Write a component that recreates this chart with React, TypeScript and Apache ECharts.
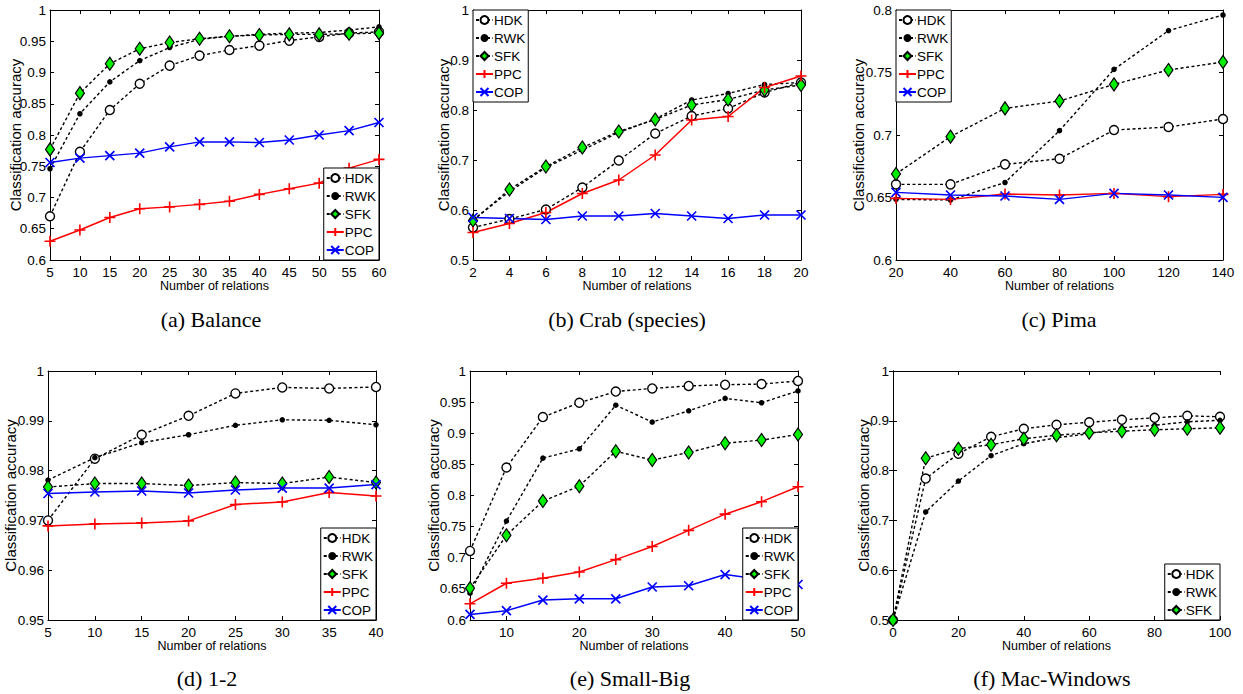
import React, { useEffect, useRef } from "react";
import * as echarts from "echarts";

// ---------- data ----------
const balanceX = [5, 10, 15, 20, 25, 30, 35, 40, 45, 50, 55, 60];
const balanceHDK = [0.670, 0.773, 0.840, 0.882, 0.911, 0.927, 0.936, 0.943, 0.951, 0.957, 0.963, 0.965];
const balanceRWK = [0.746, 0.834, 0.885, 0.919, 0.940, 0.953, 0.958, 0.961, 0.963, 0.964, 0.968, 0.973];
const balanceSFK = [0.777, 0.867, 0.914, 0.938, 0.948, 0.954, 0.958, 0.960, 0.961, 0.961, 0.962, 0.963];
const balancePPC = [0.630, 0.648, 0.668, 0.682, 0.685, 0.689, 0.694, 0.705, 0.714, 0.723, 0.747, 0.761];
const balanceCOP = [0.756, 0.763, 0.767, 0.771, 0.781, 0.789, 0.789, 0.788, 0.792, 0.800, 0.807, 0.820];

const crabX = [2, 4, 6, 8, 10, 12, 14, 16, 18, 20];
const crabHDK = [0.565, 0.582, 0.601, 0.645, 0.699, 0.753, 0.788, 0.803, 0.835, 0.855];
const crabRWK = [0.580, 0.637, 0.685, 0.720, 0.755, 0.782, 0.820, 0.833, 0.851, 0.855];
const crabSFK = [0.579, 0.641, 0.687, 0.725, 0.757, 0.781, 0.810, 0.821, 0.840, 0.850];
const crabPPC = [0.555, 0.573, 0.595, 0.633, 0.660, 0.710, 0.780, 0.787, 0.845, 0.868];
const crabCOP = [0.585, 0.583, 0.581, 0.588, 0.588, 0.593, 0.588, 0.583, 0.590, 0.590];

const pimaX = [20, 40, 60, 80, 100, 120, 140];
const pimaHDK = [0.6605, 0.6605, 0.6765, 0.681, 0.704, 0.7064, 0.7128];
const pimaRWK = [0.6485, 0.648, 0.662, 0.7035, 0.7525, 0.7835, 0.796];
const pimaSFK = [0.6688, 0.6987, 0.7213, 0.7272, 0.7405, 0.752, 0.7584];
const pimaPPC = [0.6493, 0.6485, 0.6528, 0.652, 0.6533, 0.6507, 0.6525];
const pimaCOP = [0.6541, 0.652, 0.6512, 0.6485, 0.6533, 0.652, 0.6501];

const oneTwoX = [5, 10, 15, 20, 25, 30, 35, 40];
const oneTwoHDK = [0.9700, 0.9824, 0.9872, 0.9910, 0.9955, 0.9967, 0.9965, 0.9968];
const oneTwoRWK = [0.9781, 0.9826, 0.9856, 0.9872, 0.9891, 0.9902, 0.9901, 0.9892];
const oneTwoSFK = [0.9767, 0.9774, 0.9774, 0.9770, 0.9776, 0.9774, 0.9787, 0.9776];
const oneTwoPPC = [0.9689, 0.9693, 0.9695, 0.9699, 0.9732, 0.9737, 0.9756, 0.9749];
const oneTwoCOP = [0.9754, 0.9757, 0.9759, 0.9755, 0.9761, 0.9765, 0.9765, 0.9772];

const smallBigX = [5, 10, 15, 20, 25, 30, 35, 40, 45, 50];
const smallBigHDK = [0.711, 0.845, 0.926, 0.949, 0.967, 0.972, 0.976, 0.978, 0.979, 0.984];
const smallBigRWK = [0.643, 0.759, 0.860, 0.875, 0.945, 0.918, 0.936, 0.956, 0.949, 0.968];
const smallBigSFK = [0.651, 0.736, 0.791, 0.815, 0.871, 0.857, 0.869, 0.884, 0.889, 0.898];
const smallBigPPC = [0.626, 0.659, 0.667, 0.677, 0.697, 0.718, 0.744, 0.770, 0.790, 0.814];
const smallBigCOP = [0.609, 0.615, 0.632, 0.634, 0.634, 0.653, 0.655, 0.673, 0.665, 0.657];

const macWinX = [0, 10, 20, 30, 40, 50, 60, 70, 80, 90, 100];
const macWinHDK = [0.5, 0.784, 0.834, 0.868, 0.884, 0.892, 0.897, 0.902, 0.906, 0.910, 0.908];
const macWinRWK = [0.5, 0.717, 0.779, 0.830, 0.854, 0.866, 0.874, 0.886, 0.891, 0.898, 0.901];
const macWinSFK = [0.5, 0.825, 0.844, 0.852, 0.864, 0.871, 0.876, 0.879, 0.882, 0.884, 0.886];

const smallBigXTicks = [10, 20, 30, 40, 50];

const methodNames = ["HDK", "RWK", "SFK", "PPC", "COP"];

// ---------- styles ----------
const SANS = "Liberation Sans, Arial, Helvetica, sans-serif";
const SERIF = "Liberation Serif, Times New Roman, serif";
const DASH = [3, 2.5];

const seriesStyle: Record<string, any> = {
  HDK: {
    symbol: "circle",
    symbolSize: 9,
    itemStyle: { color: "#ffffff", borderColor: "#000000", borderWidth: 1.4 },
    lineStyle: { color: "#000000", width: 1.4, type: DASH },
  },
  RWK: {
    symbol: "circle",
    symbolSize: 5.5,
    itemStyle: { color: "#000000", borderColor: "#000000", borderWidth: 0 },
    lineStyle: { color: "#000000", width: 1.4, type: DASH },
  },
  SFK: {
    symbol: "diamond",
    symbolSize: [9, 13],
    itemStyle: { color: "#00f000", borderColor: "#000000", borderWidth: 1.2 },
    lineStyle: { color: "#000000", width: 1.4, type: DASH },
  },
  PPC: {
    symbol: "path://M5,0L5,10M0,5L10,5",
    symbolSize: 11,
    itemStyle: { color: "#ff0000", borderColor: "#ff0000", borderWidth: 1.6 },
    lineStyle: { color: "#ff0000", width: 1.5, type: "solid" },
  },
  COP: {
    symbol: "path://M0,0L10,10M10,0L0,10",
    symbolSize: 9,
    itemStyle: { color: "#0000ff", borderColor: "#0000ff", borderWidth: 1.7 },
    lineStyle: { color: "#0000ff", width: 1.5, type: "solid" },
  },
};

type Panel = {
  grid: { left: number; top: number; width: number; height: number };
  x: { min: number; max: number; interval?: number; custom?: number[] };
  y: { min: number; max: number; interval: number };
  yNameGap: number;
  xs: number[];
  data: Record<string, number[]>;
  legend: any;
  caption: { text: string; x: number; y: number };
};

const panels: Panel[] = [
  {
    grid: { left: 50, top: 10, width: 329, height: 250 },
    x: { min: 5, max: 60, interval: 5 },
    y: { min: 0.6, max: 1, interval: 0.05 },
    yNameGap: 27,
    xs: balanceX,
    data: { HDK: balanceHDK, RWK: balanceRWK, SFK: balanceSFK, PPC: balancePPC, COP: balanceCOP },
    legend: { right: 1243 - 379, bottom: 694 - 260 },
    caption: { text: "(a) Balance", x: 211, y: 319 },
  },
  {
    grid: { left: 473, top: 10, width: 328, height: 250 },
    x: { min: 2, max: 20, interval: 2 },
    y: { min: 0.5, max: 1, interval: 0.1 },
    yNameGap: 22,
    xs: crabX,
    data: { HDK: crabHDK, RWK: crabRWK, SFK: crabSFK, PPC: crabPPC, COP: crabCOP },
    legend: { left: 473, top: 10 },
    caption: { text: "(b) Crab (species)", x: 627, y: 319 },
  },
  {
    grid: { left: 896, top: 10, width: 327, height: 250 },
    x: { min: 20, max: 140, interval: 20 },
    y: { min: 0.6, max: 0.8, interval: 0.05 },
    yNameGap: 30,
    xs: pimaX,
    data: { HDK: pimaHDK, RWK: pimaRWK, SFK: pimaSFK, PPC: pimaPPC, COP: pimaCOP },
    legend: { left: 896, top: 10 },
    caption: { text: "(c) Pima", x: 1059, y: 319 },
  },
  {
    grid: { left: 48, top: 371, width: 328, height: 249 },
    x: { min: 5, max: 40, interval: 5 },
    y: { min: 0.95, max: 1, interval: 0.01 },
    yNameGap: 30,
    xs: oneTwoX,
    data: { HDK: oneTwoHDK, RWK: oneTwoRWK, SFK: oneTwoSFK, PPC: oneTwoPPC, COP: oneTwoCOP },
    legend: { right: 1243 - 376, bottom: 694 - 620 },
    caption: { text: "(d) 1-2", x: 207, y: 678 },
  },
  {
    grid: { left: 470, top: 371, width: 328, height: 249 },
    x: { min: 5, max: 50, custom: smallBigXTicks },
    y: { min: 0.6, max: 1, interval: 0.05 },
    yNameGap: 29,
    xs: smallBigX,
    data: { HDK: smallBigHDK, RWK: smallBigRWK, SFK: smallBigSFK, PPC: smallBigPPC, COP: smallBigCOP },
    legend: { right: 1243 - 798, bottom: 694 - 620 },
    caption: { text: "(e) Small-Big", x: 630, y: 678 },
  },
  {
    grid: { left: 893, top: 371, width: 327, height: 249 },
    x: { min: 0, max: 100, interval: 20 },
    y: { min: 0.5, max: 1, interval: 0.1 },
    yNameGap: 22,
    xs: macWinX,
    data: { HDK: macWinHDK, RWK: macWinRWK, SFK: macWinSFK },
    legend: { right: 1243 - 1220, bottom: 694 - 620 },
    caption: { text: "(f) Mac-Windows", x: 1052, y: 678 },
  },
];

const fmt = (v: number) => String(Math.round(v * 1000) / 1000);

function buildOption() {
  const grid: any[] = [];
  const xAxis: any[] = [];
  const yAxis: any[] = [];
  const series: any[] = [];
  const legend: any[] = [];
  const graphic: any[] = [];

  panels.forEach((p, gi) => {
    grid.push({ ...p.grid, containLabel: false });
    const axisLine = { show: true, lineStyle: { color: "#000", width: 1 } };
    const axisTickBase = { show: true, inside: true, length: 4, lineStyle: { color: "#000", width: 1 } };
    const xBase: any = {
      type: "value",
      gridIndex: gi,
      min: p.x.min,
      max: p.x.max,
      splitLine: { show: false },
      axisLine,
    };
    if (p.x.interval !== undefined) xBase.interval = p.x.interval;
    const xTick: any = { ...axisTickBase };
    const xLabel: any = {
      show: true,
      color: "#000",
      fontSize: 13.5,
      fontFamily: SANS,
      margin: 5,
      showMinLabel: true,
      showMaxLabel: true,
      formatter: fmt,
    };
    if (p.x.custom) {
      xTick.customValues = p.x.custom;
      xLabel.customValues = p.x.custom;
    }
    xAxis.push({
      ...xBase,
      position: "bottom",
      axisTick: xTick,
      axisLabel: xLabel,
      name: "Number of relations",
      nameLocation: "middle",
      nameGap: 19,
      nameTextStyle: { color: "#000", fontSize: 12.5, fontFamily: SANS },
    });
    xAxis.push({
      ...xBase,
      position: "top",
      axisTick: xTick,
      axisLabel: { show: false, ...(p.x.custom ? { customValues: p.x.custom } : {}) },
    });
    const yBase: any = {
      type: "value",
      gridIndex: gi,
      min: p.y.min,
      max: p.y.max,
      interval: p.y.interval,
      splitLine: { show: false },
      axisLine,
      axisTick: axisTickBase,
    };
    yAxis.push({
      ...yBase,
      position: "left",
      axisLabel: {
        show: true,
        color: "#000",
        fontSize: 13.5,
        fontFamily: SANS,
        margin: 4,
        showMinLabel: true,
        showMaxLabel: true,
        formatter: fmt,
      },
      name: "Classification accuracy",
      nameLocation: "middle",
      nameGap: p.yNameGap,
      nameMoveOverlap: false,
      nameTextStyle: { color: "#000", fontSize: 15, fontFamily: SANS },
    });
    yAxis.push({ ...yBase, position: "right", axisLabel: { show: false } });

    const names = methodNames.filter((n) => p.data[n]);
    names.forEach((n) => {
      const st = seriesStyle[n];
      series.push({
        type: "line",
        name: n,
        xAxisIndex: gi * 2,
        yAxisIndex: gi * 2,
        data: p.xs.map((x, i) => [x, p.data[n][i]]),
        symbol: st.symbol,
        symbolSize: st.symbolSize,
        showAllSymbol: true,
        itemStyle: st.itemStyle,
        lineStyle: st.lineStyle,
        z: 3,
        silent: true,
      });
    });

    legend.push({
      ...p.legend,
      orient: "vertical",
      data: names,
      backgroundColor: "#ffffff",
      borderColor: "#000000",
      borderWidth: 1,
      borderRadius: 0,
      padding: [3, 3, 3, 2],
      itemGap: 4,
      itemWidth: 17,
      itemHeight: 10,
      selectedMode: false,
      textStyle: { color: "#000", fontSize: 13.5, fontFamily: SANS, padding: [0, 0, 0, -4] },
      z: 10,
    });

    graphic.push({
      type: "text",
      x: p.caption.x,
      y: p.caption.y,
      style: {
        text: p.caption.text,
        fill: "#000",
        font: `22px ${SERIF}`,
        textAlign: "center",
        textVerticalAlign: "middle",
      },
    });
  });

  return {
    animation: false,
    backgroundColor: "#ffffff",
    grid,
    xAxis,
    yAxis,
    series,
    legend,
    graphic,
  };
}

export default function App() {
  const ref = useRef<HTMLDivElement>(null);
  useEffect(() => {
    if (!ref.current) return;
    const chart = echarts.init(ref.current, undefined, { renderer: "svg" });
    chart.setOption(buildOption() as any);
    return () => chart.dispose();
  }, []);
  return (
    <div
      ref={ref}
      style={{ position: "fixed", left: 0, top: 0, width: 1243, height: 694, background: "#fff" }}
    />
  );
}
